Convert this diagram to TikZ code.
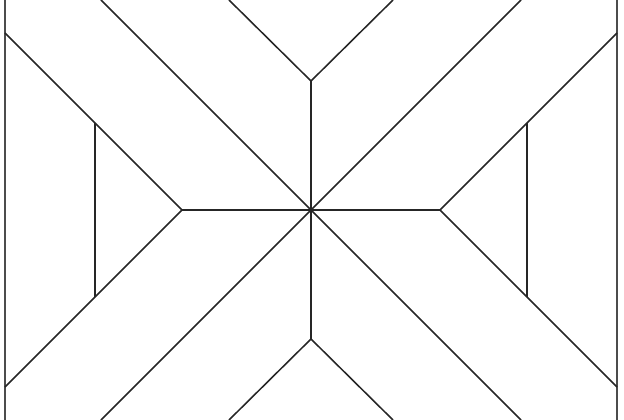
\documentclass[tikz,border=0pt]{standalone}
\usepackage{tikz}

\begin{document}
\begin{tikzpicture}[x=0.025cm, y=0.025cm, line width=1.1pt, color={black!85}]

\useasboundingbox (-311,-210) rectangle (313,210);

%outer frame (left and right edges)
\draw[line width=1.3pt, black!70] (-306,-210) -- (-306,210);
\draw[line width=1.3pt, black!70] (306,-210) -- (306,210);

%the main cross through the centre
\draw (-210,210) -- (210,-210);
\draw (210,210) -- (-210,-210);
\draw (0,129) -- (0,-129);
\draw (-129,0) -- (129,0);

%top and bottom v shapes
\draw (-82,210) -- (0,129) -- (82,210);
\draw (-82,-210) -- (0,-129) -- (82,-210);

%left and right arrow heads
\draw (-306,177) -- (-129,0) -- (-306,-177);
\draw (306,177) -- (129,0) -- (306,-177);

%small triangles closing the arrow heads
\draw (-216,87) -- (-216,-87);
\draw (216,87) -- (216,-87);

\end{tikzpicture}
\end{document}
